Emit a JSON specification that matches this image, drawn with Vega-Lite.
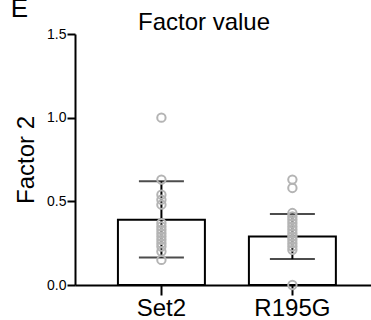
{
  "$schema": "https://vega.github.io/schema/vega-lite/v6.json",
  "autosize": "none",
  "width": 296,
  "height": 251,
  "padding": {"left": 75, "top": 34, "right": 0, "bottom": 35},
  "background": "white",
  "config": {
    "font": "Liberation Sans",
    "view": {"stroke": null},
    "axis": {"grid": false, "domainColor": "black", "domainWidth": 2, "tickColor": "black", "tickWidth": 2, "labelColor": "black", "titleColor": "black", "labelFont": "Liberation Sans", "titleFont": "Liberation Sans", "titleFontWeight": "normal"}
  },
  "title": {"text": "Factor value", "fontSize": 24, "fontWeight": "normal", "font": "Liberation Sans", "anchor": "middle", "frame": "group", "dx": -19, "offset": 0, "baseline": "alphabetic", "dy": 58, "color": "black"},
  "datasets": {
    "summary": [
      {"group": "Set2", "mean": 0.39, "lo": 0.165, "hi": 0.62},
      {"group": "R195G", "mean": 0.29, "lo": 0.155, "hi": 0.425}
    ],
    "points": [
      {"group": "Set2", "value": 1.0},
      {"group": "Set2", "value": 0.63},
      {"group": "Set2", "value": 0.54},
      {"group": "Set2", "value": 0.51},
      {"group": "Set2", "value": 0.48},
      {"group": "Set2", "value": 0.37},
      {"group": "Set2", "value": 0.35},
      {"group": "Set2", "value": 0.33},
      {"group": "Set2", "value": 0.31},
      {"group": "Set2", "value": 0.29},
      {"group": "Set2", "value": 0.27},
      {"group": "Set2", "value": 0.25},
      {"group": "Set2", "value": 0.23},
      {"group": "Set2", "value": 0.2},
      {"group": "Set2", "value": 0.15},
      {"group": "R195G", "value": 0.63},
      {"group": "R195G", "value": 0.58},
      {"group": "R195G", "value": 0.43},
      {"group": "R195G", "value": 0.41},
      {"group": "R195G", "value": 0.39},
      {"group": "R195G", "value": 0.37},
      {"group": "R195G", "value": 0.35},
      {"group": "R195G", "value": 0.33},
      {"group": "R195G", "value": 0.31},
      {"group": "R195G", "value": 0.29},
      {"group": "R195G", "value": 0.27},
      {"group": "R195G", "value": 0.25},
      {"group": "R195G", "value": 0.23},
      {"group": "R195G", "value": 0.21},
      {"group": "R195G", "value": 0.0}
    ]
  },
  "resolve": {"axis": {"x": "independent"}},
  "layer": [
    {
      "data": {"name": "summary"},
      "mark": {"type": "bar", "fill": "white", "stroke": "black", "strokeWidth": 2},
      "encoding": {
        "x": {"field": "group", "type": "nominal", "sort": ["Set2", "R195G"],
          "scale": {"paddingInner": 0.336, "paddingOuter": 0.298, "align": 0.55},
          "axis": {"orient": "bottom", "title": null, "labelAngle": 0, "labelFontSize": 24, "tickSize": 10, "labelPadding": 1}},
        "y": {"field": "mean", "type": "quantitative",
          "scale": {"domain": [0, 1.5], "nice": false},
          "axis": {"title": "Factor 2", "titleFontSize": 24, "values": [0, 0.5, 1, 1.5], "format": ".1f", "labelFontSize": 14, "tickSize": 8, "labelPadding": 1, "titlePadding": 8}}
      }
    },
    {
      "data": {"name": "summary"},
      "mark": {"type": "rule", "color": "black", "strokeWidth": 2},
      "encoding": {
        "x": {"field": "group", "type": "nominal", "sort": ["Set2", "R195G"], "axis": null},
        "y": {"field": "lo", "type": "quantitative"},
        "y2": {"field": "hi"}
      }
    },
    {
      "data": {"name": "summary"},
      "mark": {"type": "tick", "color": "black", "thickness": 2, "size": 45, "orient": "horizontal"},
      "encoding": {
        "x": {"field": "group", "type": "nominal", "sort": ["Set2", "R195G"], "axis": null},
        "y": {"field": "lo", "type": "quantitative"}
      }
    },
    {
      "data": {"name": "summary"},
      "mark": {"type": "tick", "color": "black", "thickness": 2, "size": 45, "orient": "horizontal"},
      "encoding": {
        "x": {"field": "group", "type": "nominal", "sort": ["Set2", "R195G"], "axis": null},
        "y": {"field": "hi", "type": "quantitative"}
      }
    },
    {
      "data": {"name": "points"},
      "mark": {"type": "point", "shape": "circle", "filled": false, "stroke": "#b4b4b4", "strokeWidth": 2, "size": 70, "opacity": 1},
      "encoding": {
        "x": {"field": "group", "type": "nominal", "sort": ["Set2", "R195G"],
          "axis": {"orient": "top", "title": "E", "labels": false, "ticks": false, "domain": false, "titleFontSize": 26, "titleAngle": 0, "titleX": -56, "titleY": -17.5, "titleAlign": "center", "titleBaseline": "alphabetic"}},
        "y": {"field": "value", "type": "quantitative"}
      }
    }
  ]
}
